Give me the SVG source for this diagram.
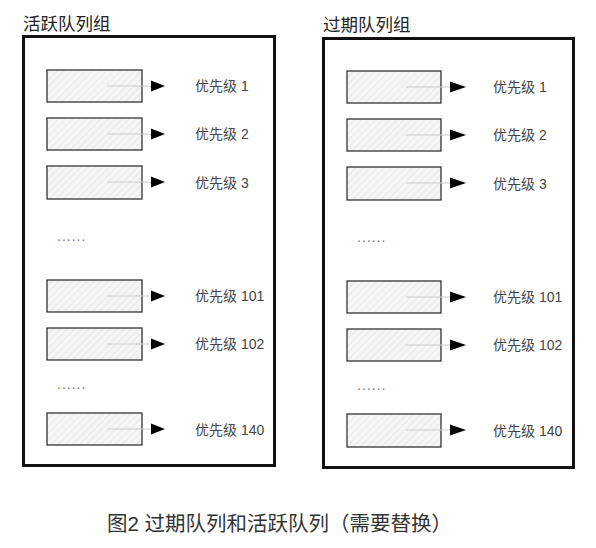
<svg xmlns="http://www.w3.org/2000/svg" width="596" height="548" viewBox="0 0 596 548">
<defs>
<pattern id="hatch" patternUnits="userSpaceOnUse" width="5" height="5" patternTransform="rotate(45)">
<rect width="5" height="5" fill="#f5f5f5"/>
<line x1="0" y1="0" x2="0" y2="5" stroke="#dedede" stroke-width="1"/>
</pattern>
</defs>
<style>
.frame{fill:#fff;stroke:#111;stroke-width:3}
.q{fill:url(#hatch);stroke:#333;stroke-width:1.3}
.lbl{font-family:"Liberation Sans","Noto Sans CJK SC",sans-serif;font-size:14px;fill:#444}
.title{font-family:"Liberation Sans","Noto Sans CJK SC",sans-serif;font-size:17.5px;fill:#222}
.cap{font-family:"Liberation Sans","Noto Sans CJK SC",sans-serif;font-size:20.5px;fill:#333}
.dots{font-family:"Liberation Sans",sans-serif;font-size:14px;fill:#777;letter-spacing:1px}
.faint{stroke:#ccc;stroke-width:1}
</style>
<rect width="596" height="548" fill="#fff"/>
<g id="active-group">
<text class="title" x="23" y="30">活跃队列组</text>
<rect class="frame" x="23.5" y="36.5" width="251" height="429"/>
</g>
<g id="expired-group">
<text class="title" x="323" y="31">过期队列组</text>
<rect class="frame" x="323.5" y="38.5" width="250" height="429"/>
</g>
<g id="active-queues">
<g id="a1"><rect class="q" x="47" y="70" width="95" height="32"/><text class="lbl" x="195" y="91">优先级 1</text></g>
<g id="a2"><rect class="q" x="47" y="118" width="95" height="32"/><text class="lbl" x="195" y="139">优先级 2</text></g>
<g id="a3"><rect class="q" x="47" y="166" width="95" height="33"/><text class="lbl" x="195" y="188">优先级 3</text></g>
<text class="dots" x="57" y="241">......</text>
<g id="a101"><rect class="q" x="47" y="280" width="95" height="32"/><text class="lbl" x="195" y="301">优先级 101</text></g>
<g id="a102"><rect class="q" x="47" y="328" width="95" height="32"/><text class="lbl" x="195" y="349">优先级 102</text></g>
<text class="dots" x="57" y="389">......</text>
<g id="a140"><rect class="q" x="47" y="413" width="95" height="32"/><text class="lbl" x="195" y="435">优先级 140</text></g>
</g>
<g id="expired-queues">
<g id="e1"><rect class="q" x="347" y="71" width="94" height="32"/><text class="lbl" x="493" y="92">优先级 1</text></g>
<g id="e2"><rect class="q" x="347" y="119" width="94" height="32"/><text class="lbl" x="493" y="140">优先级 2</text></g>
<g id="e3"><rect class="q" x="347" y="167" width="94" height="33"/><text class="lbl" x="493" y="189">优先级 3</text></g>
<text class="dots" x="357" y="242">......</text>
<g id="e101"><rect class="q" x="347" y="281" width="94" height="32"/><text class="lbl" x="493" y="302">优先级 101</text></g>
<g id="e102"><rect class="q" x="347" y="329" width="94" height="32"/><text class="lbl" x="493" y="350">优先级 102</text></g>
<text class="dots" x="357" y="390">......</text>
<g id="e140"><rect class="q" x="347" y="414" width="94" height="33"/><text class="lbl" x="493" y="436">优先级 140</text></g>
</g>
<g id="connectors">
<g class="faint">
<line x1="107" y1="86" x2="151" y2="86"/>
<line x1="107" y1="134" x2="151" y2="134"/>
<line x1="107" y1="182" x2="151" y2="182"/>
<line x1="107" y1="296" x2="151" y2="296"/>
<line x1="107" y1="344" x2="151" y2="344"/>
<line x1="107" y1="429" x2="151" y2="429"/>
<line x1="406" y1="87" x2="450" y2="87"/>
<line x1="406" y1="135" x2="450" y2="135"/>
<line x1="406" y1="183" x2="450" y2="183"/>
<line x1="406" y1="297" x2="450" y2="297"/>
<line x1="406" y1="345" x2="450" y2="345"/>
<line x1="406" y1="430" x2="450" y2="430"/>
</g>
<g fill="#000">
<path d="M151,80.5 L165,86 L151,91.5 Z"/>
<path d="M151,128.5 L165,134 L151,139.5 Z"/>
<path d="M151,176.5 L165,182 L151,187.5 Z"/>
<path d="M151,290.5 L165,296 L151,301.5 Z"/>
<path d="M151,338.5 L165,344 L151,349.5 Z"/>
<path d="M151,423.5 L165,429 L151,434.5 Z"/>
<path d="M450,81.5 L466,87 L450,92.5 Z"/>
<path d="M450,129.5 L466,135 L450,140.5 Z"/>
<path d="M450,177.5 L466,183 L450,188.5 Z"/>
<path d="M450,291.5 L466,297 L450,302.5 Z"/>
<path d="M450,339.5 L466,345 L450,350.5 Z"/>
<path d="M450,424.5 L466,430 L450,435.5 Z"/>
</g>
</g>
<text class="cap" x="107" y="531">图2 过期队列和活跃队列（需要替换）</text>
</svg>
